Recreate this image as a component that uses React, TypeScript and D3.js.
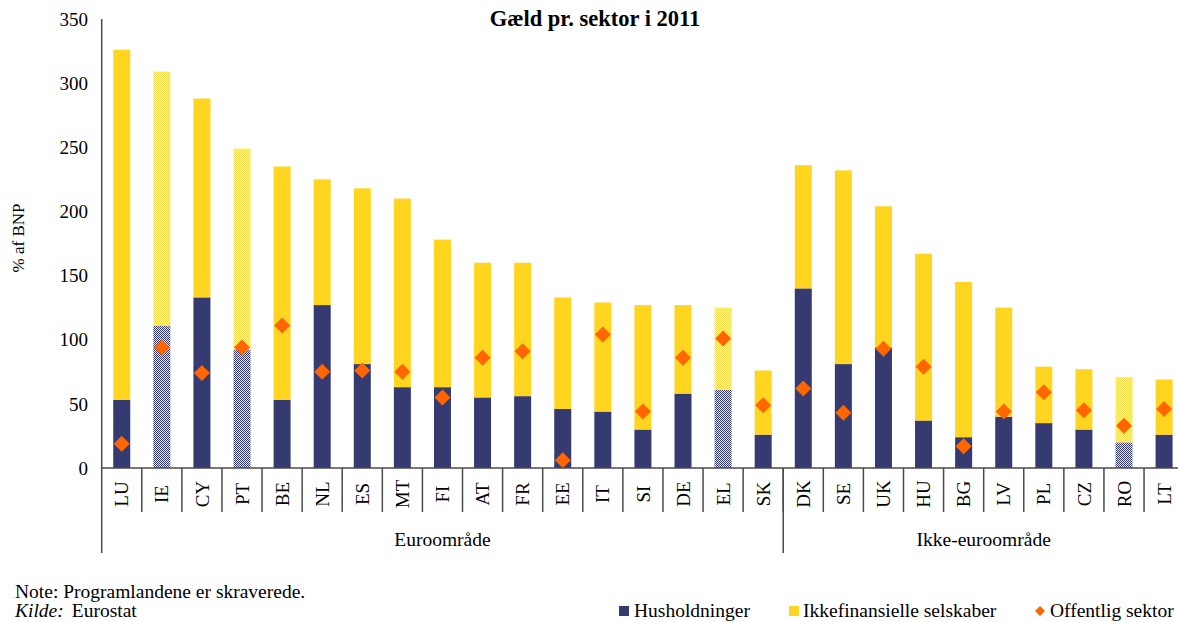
import React from "react";
import * as d3 from "d3";

const countries = ["LU","IE","CY","PT","BE","NL","ES","MT","FI","AT","FR","EE","IT","SI","DE","EL","SK","DK","SE","UK","HU","BG","LV","PL","CZ","RO","LT"];
const households = [53,111,133,92,53,127,81,63,63,55,56,46,44,30,58,61,26,140,81,94,37,24,40,35,30,20,26];
const nonFinancial = [273,198,155,157,182,98,137,147,115,105,104,87,85,97,69,64,50,96,151,110,130,121,85,44,47,51,43];
const government = [19,94,74,94,111,75,76,75,55,86,91,6,104,44,86,101,49,62,43,93,79,17,44,59,45,33,46];
const programCountries = ["IE","PT","EL","RO"];
const groups = [
  { name: "Euroområde", from: 0, to: 17 },
  { name: "Ikke-euroområde", from: 17, to: 27 },
];
const yTicks = [0,50,100,150,200,250,300,350];
const title = "Gæld pr. sektor i 2011";
const yLabel = "% af BNP";
const legendItems = ["Husholdninger","Ikkefinansielle selskaber","Offentlig sektor"];

const NAVY = "#353A70";
const YELLOW = "#FFD520";
const ORANGE = "#FF6600";
const AXIS = "#4a4a4a";
const FONT = "'Liberation Serif', 'Times New Roman', serif";

export default function App() {
  const W = 1178, H = 622;
  const x0 = 101.7, step = 40.09;
  const x = d3.scaleBand<string>().domain(countries).range([x0, x0 + step * countries.length]).padding(0);
  const y = d3.scaleLinear().domain([0, 350]).range([468, 19]);
  const barW = 17;
  const bx = (c: string) => (x(c) as number) + (x.bandwidth() - barW) / 2;
  const cx = (c: string) => (x(c) as number) + x.bandwidth() / 2;
  const isProg = (c: string) => programCountries.includes(c);
  const diamond = (s: number) => `M0,${-s}L${s},0L0,${s}L${-s},0Z`;
  const yBase = y(0);

  return (
    <div style={{ position: "fixed", left: 0, top: 0 }}>
      <svg width={W} height={H} style={{ display: "block", fontFamily: FONT }}>
        <defs>
          <pattern id="navyHatch" width="2" height="2" patternUnits="userSpaceOnUse">
            <rect width="2" height="2" fill="#E4E5EF" />
            <rect width="1" height="1" fill={NAVY} />
            <rect x="1" y="1" width="1" height="1" fill={NAVY} />
          </pattern>
          <pattern id="yellowHatch" width="2" height="2" patternUnits="userSpaceOnUse">
            <rect width="2" height="2" fill="#FFF7D6" />
            <rect width="1" height="1" fill="#FFD84A" />
            <rect x="1" y="1" width="1" height="1" fill="#FFD84A" />
          </pattern>
        </defs>
        <rect width={W} height={H} fill="#fff" />

        {/* title */}
        <text x={595} y={26} textAnchor="middle" fontSize={22.5} fontWeight="bold" fill="#000">{title}</text>

        {/* y tick labels */}
        {yTicks.map(t => (
          <text key={t} x={88} y={y(t)} dy="0.35em" textAnchor="end" fontSize={19} fill="#000">{t}</text>
        ))}
        <text transform={`translate(24,238) rotate(-90)`} textAnchor="middle" fontSize={17} fill="#000">{yLabel}</text>

        {/* bars */}
        {countries.map((c, i) => {
          const h0 = households[i];
          const h1 = h0 + nonFinancial[i];
          return (
            <g key={c}>
              <rect x={bx(c)} y={y(h0)} width={barW} height={yBase - y(h0)} fill={isProg(c) ? "url(#navyHatch)" : NAVY} />
              <rect x={bx(c)} y={y(h1)} width={barW} height={y(h0) - y(h1)} fill={isProg(c) ? "url(#yellowHatch)" : YELLOW} />
            </g>
          );
        })}

        {/* government diamonds */}
        {countries.map((c, i) => (
          <path key={c} transform={`translate(${cx(c)},${y(government[i])})`} d={diamond(8)} fill={ORANGE} />
        ))}

        {/* axes */}
        <line x1={x0} x2={W} y1={yBase} y2={yBase} stroke={AXIS} strokeWidth={1.5} />
        <line x1={x0} x2={x0} y1={19} y2={553} stroke={AXIS} strokeWidth={1.5} />
        {countries.slice(1).map(c => (
          <line key={c} x1={x(c) as number} x2={x(c) as number} y1={yBase} y2={512} stroke={AXIS} strokeWidth={1.5} />
        ))}
        {groups.slice(1).map(g => {
          const gx = x(countries[g.from]) as number;
          return <line key={g.name} x1={gx} x2={gx} y1={yBase} y2={553} stroke={AXIS} strokeWidth={1.5} />;
        })}

        {/* category labels */}
        {countries.map(c => (
          <text key={c} transform={`translate(${cx(c)},494) rotate(-90)`} dy="0.35em" textAnchor="middle" fontSize={19} fill="#000">{c}</text>
        ))}

        {/* group labels */}
        {groups.map(g => {
          const a = x(countries[g.from]) as number;
          const b = (x(countries[g.to - 1]) as number) + x.bandwidth();
          return <text key={g.name} x={(a + b) / 2} y={546} textAnchor="middle" fontSize={19.5} fill="#000">{g.name}</text>;
        })}

        {/* notes */}
        <text x={15} y={598} fontSize={19.5} fill="#000">Note: Programlandene er skraverede.</text>
        <text x={15} y={617} fontSize={19.5} fill="#000"><tspan fontStyle="italic">Kilde:</tspan><tspan dx={8}>Eurostat</tspan></text>

        {/* legend */}
        <rect x={619} y={606} width={10} height={10} fill={NAVY} />
        <text x={634} y={617} fontSize={19.5} fill="#000">{legendItems[0]}</text>
        <rect x={789} y={606} width={10} height={10} fill={YELLOW} />
        <text x={803} y={617} fontSize={19.5} fill="#000">{legendItems[1]}</text>
        <path transform="translate(1040,611)" d={diamond(5)} fill={ORANGE} />
        <text x={1050} y={617} fontSize={19.5} fill="#000">{legendItems[2]}</text>
      </svg>
    </div>
  );
}
